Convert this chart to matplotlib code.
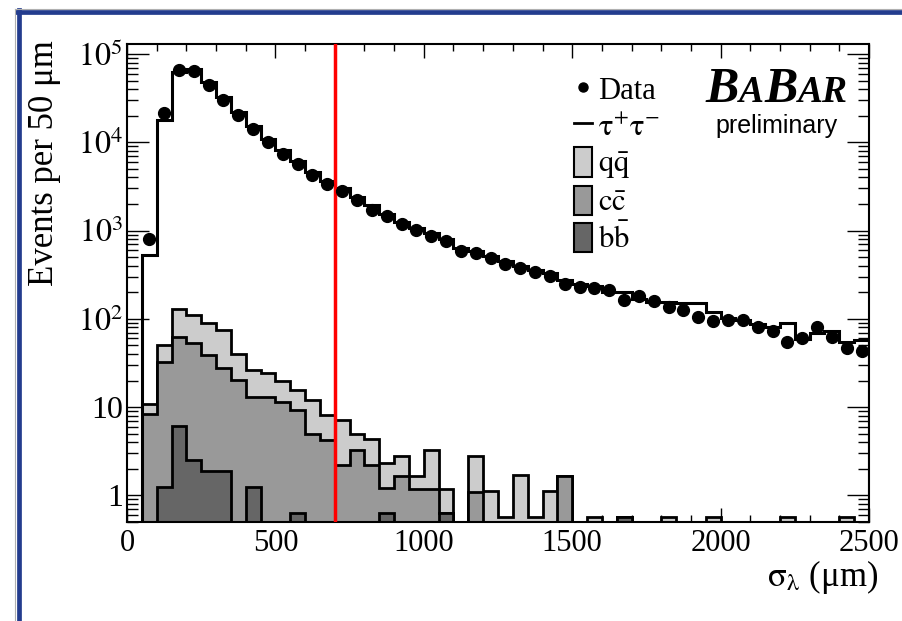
import numpy as np
import matplotlib
matplotlib.use('Agg')
import matplotlib.pyplot as plt
from matplotlib.lines import Line2D
from matplotlib.patches import Patch
from matplotlib.ticker import (MultipleLocator, LogLocator, FixedLocator,
                               FixedFormatter, NullFormatter)

plt.rcParams['font.family'] = ['Liberation Serif', 'DejaVu Serif']
plt.rcParams['mathtext.fontset'] = 'stix'

# 50 um bins from 0 to 2500 um
bin_edges = np.arange(0, 2501, 50)

data_counts = [0, 800, 21600, 66800, 63900, 44900, 30000, 20200, 14300, 10100,
               7380, 5640, 4270, 3330, 2790, 2210, 1710, 1470, 1180, 1020,
               867, 755, 582, 553, 489, 415, 374, 337, 308, 250,
               232, 226, 214, 165, 183, 160, 138, 127, 105, 94,
               97, 98, 80, 73, 55, 60, 81, 63, 47, 43]

tautau_mc = [0, 528, 17700, 62900, 67900, 48500, 32500, 22200, 15300, 11000,
             8130, 6150, 4620, 3660, 3020, 2410, 1960, 1560, 1260, 1080,
             940, 800, 640, 590, 520, 450, 400, 360, 330, 275,
             250, 238, 203, 203, 168, 157, 155, 152, 150, 119,
             103, 97.5, 87, 80.5, 90, 59.4, 69, 72, 54.5, 58]

bb_bkg = [0, 0, 1.25, 6.1, 2.5, 1.9, 1.9, 0, 1.25, 0,
          0, 0.63, 0, 0, 0, 0, 0, 0.63, 0, 0,
          0, 0.63, 0, 0, 0, 0, 0, 0, 0, 0,
          0, 0, 0, 0.57, 0, 0, 0, 0, 0, 0,
          0, 0, 0, 0, 0, 0, 0, 0, 0, 0]

cc_bkg = [0, 8.4, 31.45, 56.5, 50.5, 37.0, 25.8, 20.1, 11.85, 13.0,
          11.5, 8.57, 5.0, 4.3, 2.2, 3.3, 2.2, 0.57, 1.64, 1.17,
          1.17, 0, 0, 1.08, 0, 0, 0, 0, 0, 1.65,
          0, 0, 0, 0, 0, 0, 0, 0, 0, 0,
          0, 0, 0, 0, 0, 0, 0, 0, 0, 0]

qq_bkg = [0, 2.5, 18.3, 67.4, 58.0, 50.1, 47.3, 19.9, 13.6, 11.5,
          8.1, 6.6, 7.2, 3.9, 4.9, 1.7, 2.2, 1.14, 1.14, 0.51,
          2.13, 0.56, 0, 1.72, 1.13, 0.57, 1.7, 0.57, 1.13, 0,
          0, 0.57, 0, 0, 0, 0, 0.57, 0, 0, 0.57,
          0, 0, 0, 0, 0.57, 0, 0, 0, 0.57, 0]

y_tick_values = [1, 10, 100, 1000, 10000, 100000]
y_tick_labels = ['1', '10', r'$10^{2}$', r'$10^{3}$', r'$10^{4}$', r'$10^{5}$']
cut_value = 700

W, H = 903, 621
ymin = 0.5

fig = plt.figure(figsize=(W / 100, H / 100), dpi=100)
ax = fig.add_axes([127 / W, 1 - 522 / H, (869 - 127) / W, (522 - 44) / H])
ax.set_yscale('log')

# stacked backgrounds: total first, then cc+bb, then bb
bb = np.array(bb_bkg)
cc_level = bb + np.array(cc_bkg)
total = cc_level + np.array(qq_bkg)
for level, col in [(total, '#cccccc'), (cc_level, '#999999'), (bb, '#666666')]:
    vals = np.where(level > 0, level, ymin)
    ax.stairs(vals, bin_edges, baseline=ymin, fill=True, facecolor=col,
              edgecolor='k', linewidth=2, zorder=2)

mc = np.array(tautau_mc, dtype=float)
ax.stairs(mc[1:], bin_edges[1:], baseline=ymin, color='k', linewidth=2.2, zorder=3)

ax.axvline(cut_value, color='red', linewidth=2.5, zorder=3.5)

centers = 0.5 * (bin_edges[:-1] + bin_edges[1:])
dc = np.array(data_counts, dtype=float)
m = dc > 0
ax.plot(centers[m], dc[m], 'o', color='k', markersize=8.5, zorder=4)

ax.set_xlim(0, 2500)
ax.set_ylim(ymin, 1.3e5)
ax.xaxis.set_major_locator(MultipleLocator(500))
ax.xaxis.set_minor_locator(MultipleLocator(100))
ax.yaxis.set_major_locator(FixedLocator(y_tick_values))
ax.yaxis.set_major_formatter(FixedFormatter(y_tick_labels))
ax.yaxis.set_minor_locator(LogLocator(base=10, subs=np.arange(2, 10), numticks=20))
ax.yaxis.set_minor_formatter(NullFormatter())
ax.tick_params(which='both', direction='in', top=True, right=True, width=1)
ax.tick_params(axis='y', which='major', length=16, labelsize=23, pad=3)
ax.tick_params(axis='y', which='minor', length=8)
ax.tick_params(axis='x', which='major', length=10, labelsize=22, pad=5)
ax.tick_params(axis='x', which='minor', length=5)
for sp in ax.spines.values():
    sp.set_linewidth(1.5)

handles = [Line2D([], [], marker='o', color='k', ls='none', markersize=6.5),
           Line2D([], [], color='k', lw=2),
           Patch(facecolor='#cccccc', edgecolor='k', lw=1.5),
           Patch(facecolor='#999999', edgecolor='k', lw=1.5),
           Patch(facecolor='#666666', edgecolor='k', lw=1.5)]
labels = ['Data', r'$\mathrm{\tau^{+}\tau^{-}}$', r'$\mathrm{q\bar{q}}$',
          r'$\mathrm{c\bar{c}}$', r'$\mathrm{b\bar{b}}$']
ax.legend(handles, labels, loc='upper left', bbox_to_anchor=(574 / W, 1 - 74 / H),
          bbox_transform=fig.transFigure, frameon=False, fontsize=22,
          handlelength=0.6, handleheight=1.1, handletextpad=0.2,
          labelspacing=0.15, borderpad=0, borderaxespad=0)

# BaBar logo, pieces laid out side by side
fig.canvas.draw()
renderer = fig.canvas.get_renderer()
x0 = 705
for s, size in [('B', 36), ('A', 27), ('B', 36), ('AR', 27)]:
    t = fig.text(x0 / W, 1 - 102 / H, s, fontsize=size, fontweight='bold',
                 fontstyle='italic', family='Liberation Serif',
                 ha='left', va='baseline')
    x0 = t.get_window_extent(renderer).x1 + 0.5
fig.text(838 / W, 1 - 133 / H, 'preliminary', family='Liberation Sans',
         fontsize=18, ha='right', va='baseline')

fig.text(45 / W, 1 - 40 / H, 'Events per 50 μm', rotation=90, ha='center',
         va='top', fontsize=25)
fig.text(878 / W, 1 - 586 / H, r'$\mathrm{\sigma_{\lambda}}$ (μm)', ha='right',
         va='baseline', fontsize=25)

# canvas border
blue = '#233c8e'
fig.add_artist(Line2D([18.5 / W, 18.5 / W], [0, 1 - 10 / H], transform=fig.transFigure,
                      color=blue, lw=3.4))
fig.add_artist(Line2D([16.5 / W, 1], [1 - 12 / H, 1 - 12 / H], transform=fig.transFigure,
                      color=blue, lw=3.4))
fig.add_artist(Line2D([15 / W, 1], [1 - 9 / H, 1 - 9 / H], transform=fig.transFigure,
                      color='#b0b0b0', lw=0.8))
fig.add_artist(Line2D([15 / W, 15 / W], [0, 1 - 9 / H], transform=fig.transFigure,
                      color='#b0b0b0', lw=0.8))

fig.savefig('out.png', dpi=100)
